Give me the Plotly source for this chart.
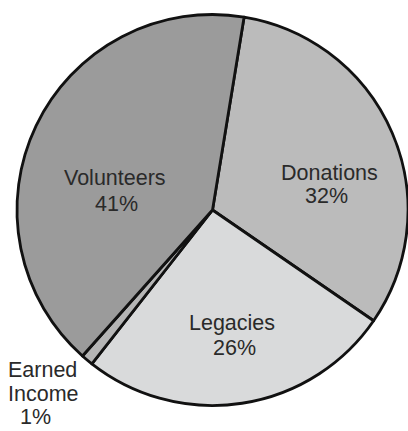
import plotly.graph_objects as go

# Sources of resources, in percent
categories = ["Donations", "Legacies", "Earned Income", "Volunteers"]
shares = [32, 26, 1, 41]
slice_colors = ["#bbbbbb", "#d9dadb", "#b5b5b5", "#9b9b9b"]

W, H = 408, 431
M = dict(l=17, r=0, t=12, b=23)

fig = go.Figure(
    go.Pie(
        labels=categories,
        values=shares,
        sort=False,
        direction="clockwise",
        rotation=9.3,
        marker=dict(colors=slice_colors, line=dict(color="#111111", width=2.8)),
        textinfo="none",
        hoverinfo="label+percent",
        showlegend=False,
    )
)

# label anchor points (pixel centres of each text line)
label_pos = {
    "Donations": [(329, 173), (326, 196)],
    "Legacies": [(232, 323), (234, 348)],
    "Earned Income": [(42, 370), (43, 394), (35, 417)],
    "Volunteers": [(115, 178), (116, 204)],
}


def to_paper(px, py):
    pw = W - M["l"] - M["r"]
    ph = H - M["t"] - M["b"]
    return (px - M["l"]) / pw, (H - M["b"] - py) / ph


annotations = []
for name, val in zip(categories, shares):
    lines = name.split(" ") if name == "Earned Income" else [name]
    lines = lines + [f"{val}%"]
    for text, (px, py) in zip(lines, label_pos[name]):
        x, y = to_paper(px, py)
        annotations.append(
            dict(
                x=x, y=y, xref="paper", yref="paper", text=text, showarrow=False,
                xanchor="center", yanchor="middle", borderpad=0,
                font=dict(family="Liberation Sans, Arial, sans-serif", size=21.5, color="#2a2a2a"),
            )
        )

fig.update_layout(
    width=W,
    height=H,
    margin=M,
    paper_bgcolor="white",
    plot_bgcolor="white",
    annotations=annotations,
)

fig.write_html("out.html")
